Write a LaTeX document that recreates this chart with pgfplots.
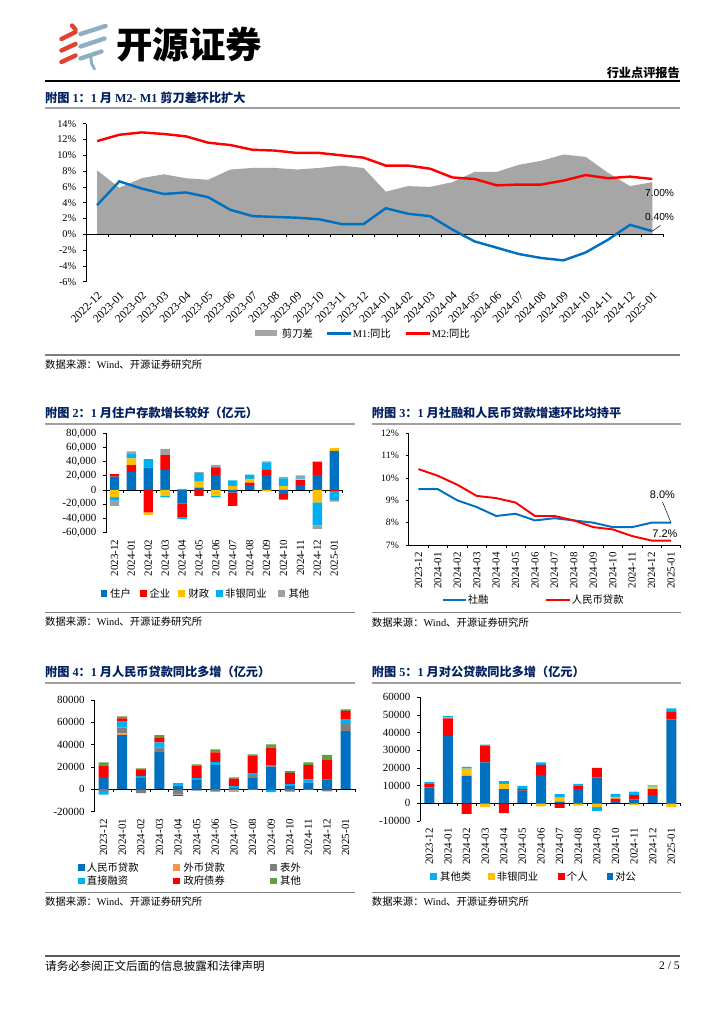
\documentclass[border=0pt]{standalone}
\usepackage{pgfplots}
\pgfplotsset{compat=1.18}
\usepackage{pgfplotstable}
\usepackage{fontspec}
\setmainfont{Liberation Serif}
\newfontfamily\cjk{Noto Sans CJK SC}
\newfontfamily\sans{Liberation Sans}
\newcommand\fs[1]{\fontsize{#1}{#1}\selectfont}

\definecolor{navy}{RGB}{0,32,96}
\definecolor{cblue}{RGB}{0,112,192}
\definecolor{cred}{RGB}{255,0,0}
\definecolor{cyel}{RGB}{255,192,0}
\definecolor{ccyan}{RGB}{0,176,240}
\definecolor{cgrey}{RGB}{160,160,160}
\definecolor{cdgrey}{RGB}{127,127,127}
\definecolor{corange}{RGB}{247,150,70}
\definecolor{cgreen}{RGB}{96,158,64}
\definecolor{area}{RGB}{166,166,166}
\definecolor{rule}{RGB}{160,160,160}
\definecolor{logored}{RGB}{226,65,47}
\definecolor{logoblue}{RGB}{142,175,194}

% chart 1: M2, M1, scissors gap (%)
\pgfplotstableread{
x m2 m1 gap
0 11.8 3.7 8.1
1 12.6 6.7 5.9
2 12.9 5.8 7.1
3 12.7 5.1 7.6
4 12.4 5.3 7.1
5 11.6 4.7 6.9
6 11.3 3.1 8.2
7 10.7 2.3 8.4
8 10.6 2.2 8.4
9 10.3 2.1 8.2
10 10.3 1.9 8.4
11 10.0 1.3 8.7
12 9.7 1.3 8.4
13 8.7 3.3 5.4
14 8.7 2.6 6.1
15 8.3 2.3 6.0
16 7.2 0.6 6.6
17 7.0 -0.9 7.9
18 6.2 -1.7 7.9
19 6.3 -2.5 8.8
20 6.3 -3.0 9.3
21 6.8 -3.3 10.1
22 7.5 -2.3 9.8
23 7.1 -0.7 7.8
24 7.3 1.2 6.1
25 7.0 0.4 6.6
}\dA

% chart 2: deposits, a=households b=corporate c=fiscal d=non-bank e=other
\pgfplotstableread{
x a b c d e
0 19000 3500 0 0 0
1 25000 10000 9500 6000 4000
2 31500 0 0 12000 0
3 28000 21000 0 0 9000
4 0 0 0 0 1500
5 3300 0 8500 12000 1500
6 21000 11000 0 0 3000
7 0 0 5500 8000 0
8 7000 3300 5500 6000 0
9 21000 8000 0 10000 1500
10 0 0 5500 11000 2000
11 7000 7000 1000 1500 4000
12 21000 19000 0 0 0
13 55000 0 4000 0 0
}\dBp
\pgfplotstableread{
x a b c d e
0 0 0 -10000 -5000 -7500
1 0 0 0 0 0
2 0 -31500 -3500 0 0
3 0 0 -8500 -2000 0
4 -19000 -19000 0 -3000 0
5 0 -8500 0 0 0
6 0 0 -8500 -2000 0
7 -3500 -19000 0 0 0
8 0 0 0 0 0
9 0 0 -2000 0 0
10 -6000 -7500 0 0 0
11 0 0 0 0 0
12 0 0 -17500 -32500 -5000
13 0 -1500 0 -13000 -2000
}\dBn

% chart 3: TSF and RMB loan growth (%)
\pgfplotstableread{
x sr dk
0 9.5 10.4
1 9.5 10.1
2 9.0 9.7
3 8.7 9.2
4 8.3 9.1
5 8.4 8.9
6 8.1 8.3
7 8.2 8.3
8 8.1 8.1
9 8.0 7.8
10 7.8 7.7
11 7.8 7.4
12 8.0 7.2
13 8.0 7.2
}\dC

% chart 4: TSF yoy change, a=rmb loans b=fx loans c=off-bs d=direct e=gov bonds f=other
\pgfplotstableread{
x a b c d e f
0 11000 0 0 0 9900 3300
1 48700 1500 5400 5000 3000 1800
2 10400 0 0 1500 6000 1000
3 33400 0 4200 4500 4500 2000
4 3300 0 0 2400 0 0
5 9000 0 0 1000 11300 1200
6 21800 0 0 2700 8700 2700
7 1800 0 0 1200 6600 1200
8 10700 0 1500 1800 15800 1500
9 20300 0 1500 0 15500 3000
10 3000 0 0 1800 10000 1500
11 6000 0 0 3000 12800 2400
12 8700 0 0 0 17600 4500
13 52200 300 6000 4500 7200 1500
}\dDp
\pgfplotstableread{
x a b c d e f
0 0 -500 -800 -3300 0 0
1 0 0 0 0 0 0
2 0 -300 -3000 0 0 0
3 0 0 0 0 0 0
4 0 -300 -4500 0 -1200 0
5 0 0 -1200 0 0 0
6 0 -500 -1500 0 0 0
7 0 -1000 -1000 0 0 0
8 0 -500 0 0 0 0
9 0 0 0 -2400 0 0
10 0 -500 -1500 0 0 0
11 0 -500 0 0 0 0
12 0 -300 -1500 0 0 0
13 0 0 0 0 0 0
}\dDn

% chart 5: loans, a=corporate b=household c=non-bank d=other
\pgfplotstableread{
x a b c d
0 9000 1900 0 1100
1 38100 10000 400 900
2 15500 0 4200 900
3 23200 9400 0 600
4 8100 0 2800 1700
5 7200 800 0 1900
6 15900 5800 0 1500
7 1000 0 2300 1900
8 8000 2000 0 1000
9 14500 5600 0 0
10 1300 1300 1000 1700
11 2100 2600 0 2000
12 4700 3400 1300 800
13 47500 4300 0 1900
}\dEp
\pgfplotstableread{
x a b c d
0 0 0 0 0
1 0 0 0 0
2 0 -6000 0 0
3 0 0 -2200 0
4 0 -5500 0 0
5 0 0 0 0
6 0 0 -1700 0
7 0 -2500 0 0
8 0 0 -1300 0
9 0 0 -2200 -1900
10 0 0 0 0
11 0 0 -1000 0
12 0 0 0 0
13 0 0 -2200 0
}\dEn

\pgfplotsset{
  base/.style={scale only axis, anchor=south west, clip=false,
    axis y line*=left, axis x line*=bottom, axis line style={-, line width=0.6pt},
    x axis line style={draw=none}, xtick style={draw=none},
    ytick style={line width=0.5pt, black}, tick align=outside, major tick length=2.5pt,
    yticklabel style={xshift=-2pt}, scaled y ticks=false,
    xmin=-0.5, xmax=13.5},
  mon/.style={xtick={0,...,13},
    xticklabels={2023-12,2024-01,2024-02,2024-03,2024-04,2024-05,2024-06,2024-07,2024-08,2024-09,2024-10,2024-11,2024-12,2025-01},
    xticklabel style={rotate=90, anchor=east, font=\fs{9pt}}},
  c2/.style={base, mon, at={(A2)}, width=194.6pt, height=81.6pt,
    ymin=-60000, ymax=80000, ybar stacked, bar width=7.7pt},
  c4/.style={base, mon, at={(A4)}, width=214.3pt, height=91.8pt,
    ymin=-20000, ymax=80000, ybar stacked, bar width=8.2pt},
  c5/.style={base, mon, at={(A5)}, width=214.3pt, height=101.7pt,
    ymin=-10000, ymax=60000, ybar stacked, bar width=8.2pt},
}

\newcommand\ttl[3]{\node[anchor=west,inner sep=0,text=navy,font=\bfseries\fs{10pt}] at (#1,#2) {#3};}
\newcommand\src[2]{\node[anchor=west,inner sep=0,font=\fs{8.5pt}] at (#1,#2) {{\cjk 数据来源：}Wind{\cjk 、开源证券研究所}};}
\newcommand\lsq[5]{\fill[#1] (#2-3.3,#3-3.3) rectangle (#2+3.3,#3+3.3);
  \node[anchor=west,inner sep=0,font=\cjk\fs{8.5pt}] at (#4,#3) {#5};}

\begin{document}
\begin{tikzpicture}
\begin{scope}[x=0.8222pt,y=-0.8222pt]
\useasboundingbox (0,0) rectangle (724,1024);
\fill[white] (0,0) rectangle (724,1024);

% logo
\begin{scope}[line width=3.6pt, line cap=round]
\draw[logored] (72,25.5) -- (75.5,29.5);
\draw[logored] (61.5,39) -- (75.5,32);
\draw[logored] (61.5,50.5) -- (75.5,44);
\draw[logored] (61.5,62) -- (75.5,55.5);
\draw[logoblue] (80.5,34) -- (105.5,26);
\draw[logoblue] (80.5,46.5) -- (104.5,38.5);
\draw[logoblue] (80.5,58.5) -- (101.5,51.5);
\draw[logoblue, line width=2.4pt] (91,57) .. controls (91,63) and (92,66) .. (94.5,69);
\end{scope}
\node[anchor=west,inner sep=0,font=\cjk\bfseries\fs{30pt}] at (116,44.5) {开源证券};
\node[anchor=east,inner sep=0,font=\cjk\bfseries\fs{10pt}] at (680,73) {行业点评报告};
\draw[line width=1.1pt] (45,81) -- (680,81);

% chart 1 frame
\ttl{45}{98}{{\cjk 附图}~1{\cjk ：}1~{\cjk 月}~M2-~M1~{\cjk 剪刀差环比扩大}}
\draw[rule, line width=1.6pt] (45,108) -- (680,108);
\fill[area] (255,330.3) rectangle (277.3,336.3);
\node[anchor=west,inner sep=0,font=\cjk\fs{8.5pt}] at (281.7,333.3) {剪刀差};
\draw[cblue,line width=2pt] (326.7,333.3) -- (350.7,333.3);
\node[anchor=west,inner sep=0,font=\fs{8.5pt}] at (352.7,333.3) {M1:{\cjk 同比}};
\draw[cred,line width=2pt] (405.7,333.3) -- (430,333.3);
\node[anchor=west,inner sep=0,font=\fs{8.5pt}] at (431.7,333.3) {M2:{\cjk 同比}};
\draw[cdgrey, line width=1.1pt] (45,355) -- (680,355);
\src{45}{365}

% chart 2 frame
\ttl{45}{412.7}{{\cjk 附图}~2{\cjk ：}1~{\cjk 月住户存款增长较好（亿元）}}
\draw[rule, line width=1.6pt] (45,423.7) -- (355,423.7);
\lsq{cblue}{104}{593.3}{110}{住户}
\lsq{cred}{143.3}{593.3}{149.3}{企业}
\lsq{cyel}{181.7}{593.3}{188.3}{财政}
\lsq{ccyan}{219.3}{593.3}{225}{非银同业}
\lsq{cgrey}{281.7}{593.3}{288.3}{其他}
\draw[cdgrey, line width=1.1pt] (45,612.3) -- (355,612.3);
\src{45}{622}

% chart 3 frame
\ttl{371.7}{412.7}{{\cjk 附图}~3{\cjk ：}1~{\cjk 月社融和人民币贷款增速环比均持平}}
\draw[rule, line width=1.6pt] (371.7,423.7) -- (680.7,423.7);
\draw[cblue,line width=2pt] (442.7,600) -- (466,600);
\node[anchor=west,inner sep=0,font=\cjk\fs{8.5pt}] at (467.5,600) {社融};
\draw[cred,line width=2pt] (546,600) -- (570,600);
\node[anchor=west,inner sep=0,font=\cjk\fs{8.5pt}] at (571.7,600) {人民币贷款};
\draw[cdgrey, line width=1.1pt] (371.7,612.3) -- (680.7,612.3);
\src{371.7}{622.5}

% chart 4 frame
\ttl{45}{671.7}{{\cjk 附图}~4{\cjk ：}1~{\cjk 月人民币贷款同比多增（亿元）}}
\draw[rule, line width=1.6pt] (45,683) -- (355,683);
\lsq{cblue}{81.7}{867.3}{86.7}{人民币贷款}
\lsq{corange}{176.7}{867.3}{183.3}{外币贷款}
\lsq{cdgrey}{273.3}{867.3}{280}{表外}
\lsq{ccyan}{81.7}{881}{86.7}{直接融资}
\lsq{cred}{176.7}{881}{183.3}{政府债券}
\lsq{cgreen}{273.3}{881}{280}{其他}
\draw[cdgrey, line width=1.1pt] (45,892.7) -- (355,892.7);
\src{45}{901.7}

% chart 5 frame
\ttl{371.7}{671.7}{{\cjk 附图}~5{\cjk ：}1~{\cjk 月对公贷款同比多增（亿元）}}
\draw[rule, line width=1.6pt] (371.7,683) -- (680.7,683);
\lsq{ccyan}{433.3}{876.7}{440}{其他类}
\lsq{cyel}{491.7}{876.7}{496.7}{非银同业}
\lsq{cred}{561.7}{876.7}{566.7}{个人}
\lsq{cblue}{610}{876.7}{615}{对公}
\draw[cdgrey, line width=1.1pt] (371.7,892.7) -- (680.7,892.7);
\src{371.7}{901.7}

% footer
\draw[black!65, line width=1.6pt] (45,955.7) -- (680,955.7);
\node[anchor=west,inner sep=0,font=\cjk\fs{9.5pt}] at (45,966) {请务必参阅正文后面的信息披露和法律声明};
\node[anchor=east,inner sep=0,font=\fs{9.5pt}] at (680,966) {2 / 5};

\coordinate (A1) at (86,281.7);
\coordinate (A2) at (106,532.5);
\coordinate (A3) at (408.7,545);
\coordinate (A4) at (94.3,811.7);
\coordinate (A5) at (420,821);
\end{scope}

% ---------- chart 1
\begin{axis}[base, at={(A1)}, width=474.7pt, height=129.9pt,
  xmin=-0.5, xmax=25.5, ymin=-6, ymax=14,
  ytick={-6,-4,...,14}, yticklabels={-6\%,-4\%,-2\%,0\%,2\%,4\%,6\%,8\%,10\%,12\%,14\%},
  yticklabel style={font=\fs{8.5pt}},
  xtick={0,...,25},
  xticklabels={2022-12,2023-01,2023-02,2023-03,2023-04,2023-05,2023-06,2023-07,2023-08,2023-09,2023-10,2023-11,2023-12,2024-01,2024-02,2024-03,2024-04,2024-05,2024-06,2024-07,2024-08,2024-09,2024-10,2024-11,2024-12,2025-01},
  xticklabel style={rotate=45, anchor=north east, font=\fs{9.5pt}}]
\addplot[fill=area, draw=none] table[x=x,y=gap]{\dA} \closedcycle;
\draw[line width=0.6pt] (axis cs:-0.5,0) -- (axis cs:25.5,0);
\pgfplotsinvokeforeach{0.5,1.5,...,25.5}{\draw[line width=0.5pt] (axis cs:#1,0) -- ++(0pt,-2.5pt);}
\addplot[cred, line width=2pt] table[x=x,y=m2]{\dA};
\addplot[cblue, line width=2pt] table[x=x,y=m1]{\dA};
\node[font=\sans\fs{8.4pt}] at (axis cs:25.33,5.19) {7.00\%};
\node[font=\sans\fs{8.4pt}] at (axis cs:25.33,2.23) {0.40\%};
\draw[line width=0.4pt] (axis cs:25,0.4) -- ++(6.8pt,4.7pt);
\end{axis}

% ---------- chart 2
\begin{axis}[c2,
  ytick={-60000,-40000,...,80000},
  yticklabels={{-60,000},{-40,000},{-20,000},0,{20,000},{40,000},{60,000},{80,000}},
  yticklabel style={font=\fs{9pt}}]
\addplot[fill=cblue, draw=none] table[x=x,y=a]{\dBp};
\addplot[fill=cred, draw=none] table[x=x,y=b]{\dBp};
\addplot[fill=cyel, draw=none] table[x=x,y=c]{\dBp};
\addplot[fill=ccyan, draw=none] table[x=x,y=d]{\dBp};
\addplot[fill=cgrey, draw=none] table[x=x,y=e]{\dBp};
\end{axis}
\begin{axis}[c2, hide axis]
\addplot[fill=cblue, draw=none] table[x=x,y=a]{\dBn};
\addplot[fill=cred, draw=none] table[x=x,y=b]{\dBn};
\addplot[fill=cyel, draw=none] table[x=x,y=c]{\dBn};
\addplot[fill=ccyan, draw=none] table[x=x,y=d]{\dBn};
\addplot[fill=cgrey, draw=none] table[x=x,y=e]{\dBn};
\draw[line width=0.6pt] (axis cs:-0.5,0) -- (axis cs:13.5,0);
\pgfplotsinvokeforeach{0.5,1.5,...,13.5}{\draw[line width=0.5pt] (axis cs:#1,0) -- ++(0pt,-2.5pt);}
\end{axis}

% ---------- chart 3
\begin{axis}[base, mon, at={(A3)}, width=223.6pt, height=91.8pt,
  ymin=7, ymax=12, ytick={7,...,12},
  yticklabels={7\%,8\%,9\%,10\%,11\%,12\%},
  yticklabel style={font=\fs{8pt}}]
\draw[line width=0.6pt] (axis cs:-0.5,7) -- (axis cs:13.5,7);
\pgfplotsinvokeforeach{0.5,1.5,...,13.5}{\draw[line width=0.5pt] (axis cs:#1,7) -- ++(0pt,-2.5pt);}
\addplot[cblue, line width=1.6pt] table[x=x,y=sr]{\dC};
\addplot[cred, line width=1.6pt] table[x=x,y=dk]{\dC};
\node[font=\sans\fs{9pt}] at (axis cs:12.56,9.27) {8.0\%};
\node[font=\sans\fs{9pt}] at (axis cs:12.69,7.49) {7.2\%};
\draw[line width=0.4pt] (axis cs:13,8.0) -- ++(-7pt,17.3pt);
\end{axis}

% ---------- chart 4
\begin{axis}[c4,
  ytick={-20000,0,...,80000},
  yticklabels={-20000,0,20000,40000,60000,80000},
  yticklabel style={font=\fs{9pt}}]
\addplot[fill=cblue, draw=none] table[x=x,y=a]{\dDp};
\addplot[fill=corange, draw=none] table[x=x,y=b]{\dDp};
\addplot[fill=cdgrey, draw=none] table[x=x,y=c]{\dDp};
\addplot[fill=ccyan, draw=none] table[x=x,y=d]{\dDp};
\addplot[fill=cred, draw=none] table[x=x,y=e]{\dDp};
\addplot[fill=cgreen, draw=none] table[x=x,y=f]{\dDp};
\end{axis}
\begin{axis}[c4, hide axis]
\addplot[fill=cblue, draw=none] table[x=x,y=a]{\dDn};
\addplot[fill=corange, draw=none] table[x=x,y=b]{\dDn};
\addplot[fill=cdgrey, draw=none] table[x=x,y=c]{\dDn};
\addplot[fill=ccyan, draw=none] table[x=x,y=d]{\dDn};
\addplot[fill=cred, draw=none] table[x=x,y=e]{\dDn};
\addplot[fill=cgreen, draw=none] table[x=x,y=f]{\dDn};
\draw[line width=0.6pt] (axis cs:-0.5,0) -- (axis cs:13.5,0);
\pgfplotsinvokeforeach{0.5,1.5,...,13.5}{\draw[line width=0.5pt] (axis cs:#1,0) -- ++(0pt,-2.5pt);}
\end{axis}

% ---------- chart 5
\begin{axis}[c5,
  ytick={-10000,0,...,60000},
  yticklabels={-10000,0,10000,20000,30000,40000,50000,60000},
  yticklabel style={font=\fs{9pt}}]
\addplot[fill=cblue, draw=none] table[x=x,y=a]{\dEp};
\addplot[fill=cred, draw=none] table[x=x,y=b]{\dEp};
\addplot[fill=cyel, draw=none] table[x=x,y=c]{\dEp};
\addplot[fill=ccyan, draw=none] table[x=x,y=d]{\dEp};
\end{axis}
\begin{axis}[c5, hide axis]
\addplot[fill=cblue, draw=none] table[x=x,y=a]{\dEn};
\addplot[fill=cred, draw=none] table[x=x,y=b]{\dEn};
\addplot[fill=cyel, draw=none] table[x=x,y=c]{\dEn};
\addplot[fill=ccyan, draw=none] table[x=x,y=d]{\dEn};
\draw[line width=0.6pt] (axis cs:-0.5,0) -- (axis cs:13.5,0);
\pgfplotsinvokeforeach{0.5,1.5,...,13.5}{\draw[line width=0.5pt] (axis cs:#1,0) -- ++(0pt,-2.5pt);}
\end{axis}
\end{tikzpicture}
\end{document}
